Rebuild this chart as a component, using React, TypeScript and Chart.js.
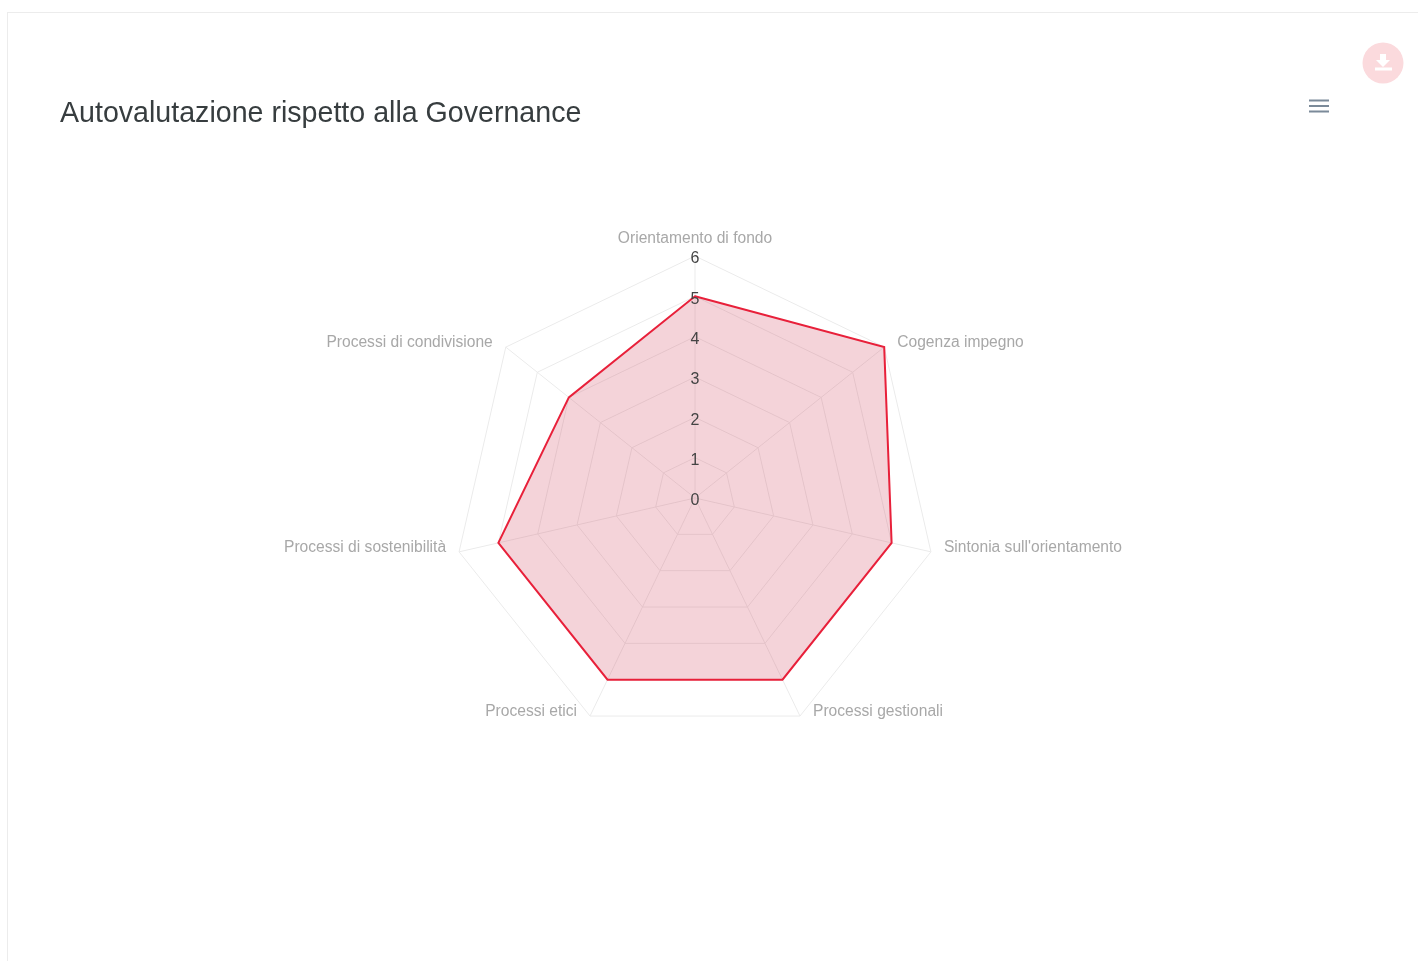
import React, { useEffect, useRef } from "react";
import { Chart, registerables } from "chart.js";

Chart.register(...registerables);

const categories = [
  "Orientamento di fondo",
  "Cogenza impegno",
  "Sintonia sull'orientamento",
  "Processi gestionali",
  "Processi etici",
  "Processi di sostenibilità",
  "Processi di condivisione",
];
const seriesName = "Autovalutazione";
const seriesValues = [5, 6, 5, 5, 5, 5, 4];
const titleText = "Autovalutazione rispetto alla Governance";
const scaleMin = 0;
const scaleMax = 6;
const scaleStep = 1;

const fontFamily = "'Liberation Sans', Arial, sans-serif";
const tickFont = `16px ${fontFamily}`;
const categoryFont = `15.6px ${fontFamily}`;

// Tick numbers run down the vertical spoke, slightly below their rings, and
// category names sit beside each outer vertex.
const radarLabels = {
  id: "radarLabels",
  afterDatasetsDraw(chart: any) {
    const scale = chart.scales.r;
    const ctx = chart.ctx;
    ctx.save();
    ctx.textBaseline = "middle";

    ctx.font = tickFont;
    ctx.fillStyle = "#444444";
    ctx.textAlign = "center";
    scale.ticks.forEach((tick: any) => {
      const p = scale.getPointPositionForValue(0, tick.value);
      ctx.fillText(tick.label, p.x, p.y + 3);
    });

    ctx.font = categoryFont;
    ctx.fillStyle = "#a8a8a8";
    categories.forEach((name, i) => {
      const p = scale.getPointPositionForValue(i, scaleMax);
      if (i === 0) {
        ctx.textAlign = "center";
        ctx.fillText(name, p.x, p.y - 17);
      } else if (p.x > scale.xCenter) {
        ctx.textAlign = "left";
        ctx.fillText(name, p.x + 13, p.y - 4);
      } else {
        ctx.textAlign = "right";
        ctx.fillText(name, p.x - 13, p.y - 4);
      }
    });
    ctx.restore();
  },
};

export default function App() {
  const canvasRef = useRef<HTMLCanvasElement | null>(null);

  useEffect(() => {
    if (!canvasRef.current) return;
    const chart = new Chart(canvasRef.current, {
      type: "radar",
      data: {
        labels: categories,
        datasets: [
          {
            label: seriesName,
            data: seriesValues,
            borderColor: "#e8203a",
            borderWidth: 2,
            backgroundColor: "rgba(207, 70, 95, 0.24)",
            fill: true,
            pointRadius: 0,
            tension: 0,
          },
        ],
      },
      plugins: [radarLabels],
      options: {
        animation: false,
        responsive: false,
        layout: { padding: 0 },
        plugins: {
          legend: { display: false },
          tooltip: { enabled: false },
          title: {
            display: true,
            text: titleText,
            align: "start",
            color: "#373d3f",
            font: { family: fontFamily, size: 28.6, weight: "normal" },
            padding: { top: 0, bottom: 125 },
          },
        },
        scales: {
          r: {
            min: scaleMin,
            max: scaleMax,
            ticks: { stepSize: scaleStep, display: false },
            grid: { color: "#ebebeb", lineWidth: 1 },
            angleLines: { color: "#ebebeb", lineWidth: 1 },
            pointLabels: { display: false },
          },
        },
      },
    });
    return () => chart.destroy();
  }, []);

  return (
    <div style={{ position: "fixed", inset: 0, overflow: "hidden", background: "#fff" }}>
      {/* Card outline: top and left edges only are in view */}
      <div
        style={{
          position: "absolute",
          left: 7,
          top: 12,
          right: -2,
          bottom: -2,
          border: "1px solid #ececec",
          boxSizing: "border-box",
        }}
      />
      <canvas
        ref={canvasRef}
        width={1270}
        height={644}
        style={{ position: "absolute", left: 60, top: 97, display: "block" }}
      />
      {/* Hamburger menu */}
      <svg style={{ position: "absolute", left: 1309, top: 98 }} width={20} height={16}>
        <rect x={0} y={1.5} width={20} height={2} fill="#7b8a99" />
        <rect x={0} y={7} width={20} height={2} fill="#7b8a99" />
        <rect x={0} y={12.5} width={20} height={2} fill="#7b8a99" />
      </svg>
      {/* Download badge */}
      <svg style={{ position: "absolute", left: 1361, top: 41 }} width={44} height={44}>
        <circle cx={22} cy={22} r={20.5} fill="#fbdadd" />
        <path d="M19 13h6v6h4l-7 7-7-7h4z" fill="#ffffff" />
        <rect x={14} y={26.5} width={17} height={3} fill="#ffffff" />
      </svg>
    </div>
  );
}
